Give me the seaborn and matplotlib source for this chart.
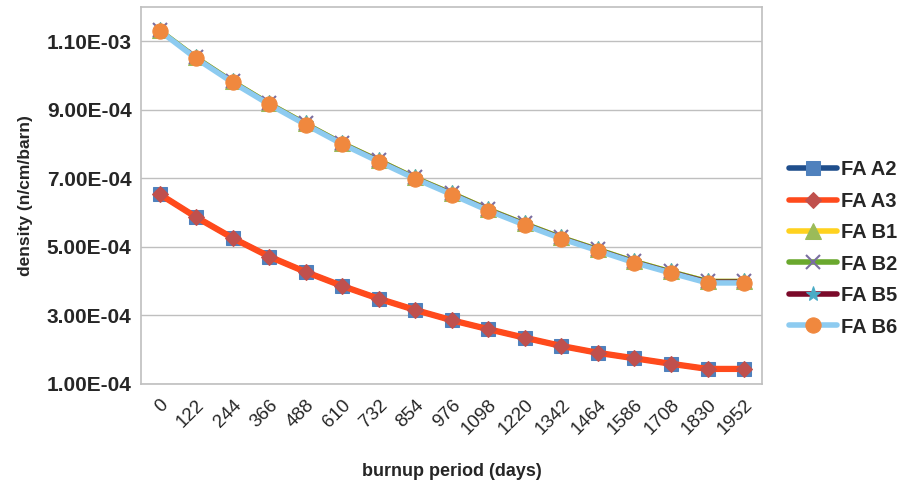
import matplotlib
matplotlib.use("Agg")
import matplotlib.pyplot as plt
import seaborn as sns
import pandas as pd
import numpy as np

days = ["0", "122", "244", "366", "488", "610", "732", "854", "976", "1098",
        "1220", "1342", "1464", "1586", "1708", "1830", "1952"]

fa_a2 = [6.54e-4, 5.87e-4, 5.26e-4, 4.72e-4, 4.27e-4, 3.86e-4, 3.49e-4, 3.16e-4, 2.86e-4,
         2.60e-4, 2.35e-4, 2.11e-4, 1.91e-4, 1.75e-4, 1.59e-4, 1.44e-4, 1.44e-4]
fa_a3 = [6.54e-4, 5.87e-4, 5.26e-4, 4.72e-4, 4.27e-4, 3.86e-4, 3.49e-4, 3.16e-4, 2.86e-4,
         2.60e-4, 2.35e-4, 2.11e-4, 1.91e-4, 1.75e-4, 1.59e-4, 1.44e-4, 1.44e-4]
fa_b1 = [1.134e-3, 1.054e-3, 9.84e-4, 9.20e-4, 8.61e-4, 8.04e-4, 7.54e-4, 7.03e-4, 6.58e-4,
         6.11e-4, 5.69e-4, 5.29e-4, 4.94e-4, 4.59e-4, 4.29e-4, 4.01e-4, 4.01e-4]
fa_b2 = [1.134e-3, 1.054e-3, 9.84e-4, 9.20e-4, 8.61e-4, 8.04e-4, 7.54e-4, 7.03e-4, 6.58e-4,
         6.11e-4, 5.69e-4, 5.29e-4, 4.94e-4, 4.59e-4, 4.29e-4, 4.01e-4, 4.01e-4]
fa_b5 = [1.134e-3, 1.054e-3, 9.84e-4, 9.20e-4, 8.61e-4, 8.04e-4, 7.54e-4, 7.03e-4, 6.58e-4,
         6.11e-4, 5.69e-4, 5.29e-4, 4.94e-4, 4.59e-4, 4.29e-4, 4.01e-4, 4.01e-4]
fa_b6 = [1.131e-3, 1.050e-3, 9.80e-4, 9.16e-4, 8.57e-4, 8.00e-4, 7.49e-4, 6.99e-4, 6.53e-4,
         6.06e-4, 5.64e-4, 5.24e-4, 4.89e-4, 4.54e-4, 4.24e-4, 3.95e-4, 3.95e-4]

yticks = [1.0e-4, 3.0e-4, 5.0e-4, 7.0e-4, 9.0e-4, 1.1e-3]
ytick_labels = ["1.00E-04", "3.00E-04", "5.00E-04", "7.00E-04", "9.00E-04", "1.10E-03"]

sns.set_theme(style="white")
plt.rcParams['font.family'] = ['Liberation Sans', 'DejaVu Sans']

fig = plt.figure(figsize=(9, 4.87), dpi=100)
ax = fig.add_axes([0.157, 0.2115, 0.69, 0.774])

series = [
    ("FA A2", fa_a2, dict(color="#1F4E8C", lw=3.5, marker="s", ms=10, mfc="#4F81BD", mec="#4F81BD")),
    ("FA A3", fa_a3, dict(color="#FF4A1C", lw=4.5, marker="D", ms=8, mfc="#C0504D", mec="#C0504D")),
    ("FA B1", fa_b1, dict(color="#FFD21F", lw=3.0, marker="^", ms=11, mfc="#9BBB59", mec="#9BBB59")),
    ("FA B2", fa_b2, dict(color="#6AA82E", lw=3.0, marker="x", ms=10, mfc="#8064A2", mec="#7A6EA0", mew=1.5)),
    ("FA B5", fa_b5, dict(color="#7B0A2A", lw=2.0, marker="*", ms=11, mfc="#4BACC6", mec="#4BACC6")),
    ("FA B6", fa_b6, dict(color="#8DCBF0", lw=4.0, marker="o", ms=11, mfc="#F0883E", mec="#F0883E")),
]

xs = np.arange(len(days))
for name, vals, st in series:
    df = pd.DataFrame({"x": xs, "y": vals})
    sns.lineplot(data=df, x="x", y="y", ax=ax, label=name, **st)

ax.set_xlim(-0.5, len(days) - 0.5)
ax.set_ylim(1.0e-4, 1.2e-3)
ax.set_yticks(yticks)
ax.set_yticklabels(ytick_labels, fontsize=15, fontweight="bold")
ax.set_xticks(xs)
ax.set_xticklabels(days, rotation=45, ha="right", rotation_mode="anchor", fontsize=13.5)
ax.tick_params(axis="x", pad=9, length=0)
ax.tick_params(axis="y", pad=7, length=0)
ax.grid(axis="y", color="#BFBFBF", lw=1.0)
ax.set_axisbelow(True)
for s in ax.spines.values():
    s.set_visible(True)
    s.set_color("#BFBFBF")
    s.set_linewidth(1.2)

ax.set_xlabel("burnup period (days)", fontsize=13, fontweight="bold", labelpad=18)
ax.set_ylabel("density (n/cm/barn)", fontsize=12.5, fontweight="bold", labelpad=10)

leg = ax.legend(loc="center left", bbox_to_anchor=(1.03, 0.36), frameon=False,
                fontsize=14.5, handlelength=2.4, labelspacing=0.62, handletextpad=0.2,
                borderaxespad=0)
for t in leg.get_texts():
    t.set_fontweight("bold")
for h in leg.get_lines():
    h.set_linewidth(4)

fig.savefig("out.png", dpi=100)
